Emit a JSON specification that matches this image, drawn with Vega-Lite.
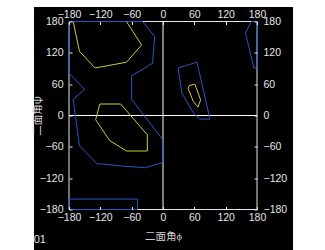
{
  "$schema": "https://vega.github.io/schema/vega-lite/v6.json",
  "width": 188,
  "height": 188,
  "autosize": {"type": "none"},
  "padding": {"left": 69, "top": 21.5, "right": 68, "bottom": 40.5},
  "background": "white",
  "config": {
    "view": {"stroke": null}
  },
  "datasets": {
    "bg": [{"x1": -247, "x2": 249, "y1": 208, "y2": -262}],
    "frame": [{"x1": -180, "x2": 180, "y1": 180, "y2": -180}],
    "v": [{"phi": 0}],
    "h": [{"psi": 0}],
    "lines": [
      {"c": "b1", "k": "blue", "o": 0, "phi": -180, "psi": 81},
      {"c": "b1", "k": "blue", "o": 1, "phi": -180, "psi": 180},
      {"c": "b1", "k": "blue", "o": 2, "phi": -39, "psi": 180},
      {"c": "b1", "k": "blue", "o": 3, "phi": -16, "psi": 151},
      {"c": "b1", "k": "blue", "o": 4, "phi": -18, "psi": 126},
      {"c": "b1", "k": "blue", "o": 5, "phi": -20, "psi": 100},
      {"c": "b1", "k": "blue", "o": 6, "phi": -60, "psi": 76},
      {"c": "b1", "k": "blue", "o": 7, "phi": -60, "psi": 31},
      {"c": "b1", "k": "blue", "o": 8, "phi": 0, "psi": -47},
      {"c": "b1", "k": "blue", "o": 9, "phi": 0, "psi": -90},
      {"c": "b1", "k": "blue", "o": 10, "phi": -34, "psi": -100},
      {"c": "b1", "k": "blue", "o": 11, "phi": -76, "psi": -97},
      {"c": "b1", "k": "blue", "o": 12, "phi": -127, "psi": -92},
      {"c": "b1", "k": "blue", "o": 13, "phi": -160, "psi": -58},
      {"c": "b1", "k": "blue", "o": 14, "phi": -172, "psi": 31},
      {"c": "b1", "k": "blue", "o": 15, "phi": -150, "psi": 50},
      {"c": "b1", "k": "blue", "o": 16, "phi": -180, "psi": 81},
      {"c": "b4", "k": "blue", "o": 0, "phi": -180, "psi": -160},
      {"c": "b4", "k": "blue", "o": 1, "phi": -49, "psi": -160},
      {"c": "b4", "k": "blue", "o": 2, "phi": -49, "psi": -180},
      {"c": "b4", "k": "blue", "o": 3, "phi": -180, "psi": -180},
      {"c": "b4", "k": "blue", "o": 4, "phi": -180, "psi": -160},
      {"c": "b2", "k": "blue", "o": 0, "phi": 29, "psi": 91},
      {"c": "b2", "k": "blue", "o": 1, "phi": 65, "psi": 102},
      {"c": "b2", "k": "blue", "o": 2, "phi": 90, "psi": -7},
      {"c": "b2", "k": "blue", "o": 3, "phi": 70, "psi": -7},
      {"c": "b2", "k": "blue", "o": 4, "phi": 58, "psi": 5},
      {"c": "b2", "k": "blue", "o": 5, "phi": 36, "psi": 43},
      {"c": "b2", "k": "blue", "o": 6, "phi": 29, "psi": 91},
      {"c": "b3", "k": "blue", "o": 0, "phi": 169, "psi": 180},
      {"c": "b3", "k": "blue", "o": 1, "phi": 158, "psi": 158},
      {"c": "b3", "k": "blue", "o": 2, "phi": 174, "psi": 91},
      {"c": "b3", "k": "blue", "o": 3, "phi": 180, "psi": 91},
      {"c": "b3", "k": "blue", "o": 4, "phi": 180, "psi": 180},
      {"c": "b3", "k": "blue", "o": 5, "phi": 169, "psi": 180},
      {"c": "y1", "k": "yellow", "o": 0, "phi": -172, "psi": 180},
      {"c": "y1", "k": "yellow", "o": 1, "phi": -160, "psi": 123},
      {"c": "y1", "k": "yellow", "o": 2, "phi": -130, "psi": 91},
      {"c": "y1", "k": "yellow", "o": 3, "phi": -70, "psi": 102},
      {"c": "y1", "k": "yellow", "o": 4, "phi": -41, "psi": 135},
      {"c": "y1", "k": "yellow", "o": 5, "phi": -70, "psi": 180},
      {"c": "y2", "k": "yellow", "o": 0, "phi": -121, "psi": 22},
      {"c": "y2", "k": "yellow", "o": 1, "phi": -81, "psi": 22},
      {"c": "y2", "k": "yellow", "o": 2, "phi": -30, "psi": -37},
      {"c": "y2", "k": "yellow", "o": 3, "phi": -30, "psi": -68},
      {"c": "y2", "k": "yellow", "o": 4, "phi": -70, "psi": -68},
      {"c": "y2", "k": "yellow", "o": 5, "phi": -102, "psi": -48},
      {"c": "y2", "k": "yellow", "o": 6, "phi": -129, "psi": -8},
      {"c": "y2", "k": "yellow", "o": 7, "phi": -121, "psi": 22},
      {"c": "y3", "k": "yellow", "o": 0, "phi": 50, "psi": 57},
      {"c": "y3", "k": "yellow", "o": 1, "phi": 61, "psi": 60},
      {"c": "y3", "k": "yellow", "o": 2, "phi": 72, "psi": 30},
      {"c": "y3", "k": "yellow", "o": 3, "phi": 67, "psi": 16},
      {"c": "y3", "k": "yellow", "o": 4, "phi": 58, "psi": 27},
      {"c": "y3", "k": "yellow", "o": 5, "phi": 48, "psi": 52},
      {"c": "y3", "k": "yellow", "o": 6, "phi": 50, "psi": 57}
    ],
    "txt": [{"t": "01", "x": -236, "y": -238}]
  },
  "layer": [
    {
      "data": {"name": "bg"},
      "mark": {"type": "rect", "fill": "black"},
      "encoding": {
        "x": {"field": "x1", "type": "quantitative", "scale": {"domain": [-180, 180], "nice": false, "zero": false},
              "axis": {"orient": "bottom", "title": "二面角ϕ", "values": [-180, -120, -60, 0, 60, 120, 180], "format": "d",
                       "domain": false, "grid": false, "tickSize": -3, "tickColor": "#e6e6e6", "labelColor": "#e6e6e6",
                       "labelFont": "Liberation Sans", "labelFontSize": 10.5, "labelFlush": false, "labelOverlap": false, "labelBound": false,
                       "labelPadding": 6, "titlePadding": 8, "titleColor": "#d0d0d0", "titleFont": "Noto Sans CJK SC", "titleFontSize": 10.5, "titleFontWeight": "normal", "zindex": 2}},
        "x2": {"field": "x2"},
        "y": {"field": "y1", "type": "quantitative", "scale": {"domain": [-180, 180], "nice": false, "zero": false},
              "axis": {"orient": "left", "title": "二面角ψ", "values": [-180, -120, -60, 0, 60, 120, 180], "format": "d",
                       "domain": false, "grid": false, "tickSize": -3, "tickColor": "#e6e6e6", "labelColor": "#e6e6e6",
                       "labelFont": "Liberation Sans", "labelFontSize": 10.5, "labelFlush": false, "labelOverlap": false, "labelBound": false,
                       "labelPadding": 9, "titlePadding": -3, "titleColor": "#d0d0d0", "titleFont": "Noto Sans CJK SC", "titleFontSize": 10.5, "titleFontWeight": "normal", "zindex": 2}},
        "y2": {"field": "y2"}
      }
    },
    {
      "data": {"name": "frame"},
      "mark": {"type": "rect", "filled": false, "stroke": "#e6e6e6", "strokeWidth": 1},
      "encoding": {
        "x": {"field": "x1", "type": "quantitative",
              "axis": {"orient": "top", "title": null, "values": [-180, -120, -60, 0, 60, 120, 180], "format": "d",
                       "domain": false, "grid": false, "tickSize": -3, "tickColor": "#e6e6e6", "labelColor": "#e6e6e6",
                       "labelFont": "Liberation Sans", "labelFontSize": 10.5, "labelFlush": false, "labelOverlap": false, "labelBound": false,
                       "labelPadding": 5, "zindex": 2}},
        "x2": {"field": "x2"},
        "y": {"field": "y1", "type": "quantitative",
              "axis": {"orient": "right", "title": null, "values": [-180, -120, -60, 0, 60, 120, 180], "format": "d",
                       "domain": false, "grid": false, "tickSize": -3, "tickColor": "#e6e6e6", "labelColor": "#e6e6e6",
                       "labelFont": "Liberation Sans", "labelFontSize": 10.5, "labelFlush": false, "labelOverlap": false, "labelBound": false,
                       "labelPadding": 9, "zindex": 2}},
        "y2": {"field": "y2"}
      }
    },
    {
      "data": {"name": "v"},
      "mark": {"type": "rule", "color": "white", "strokeWidth": 1},
      "encoding": {"x": {"field": "phi", "type": "quantitative", "axis": null}}
    },
    {
      "data": {"name": "h"},
      "mark": {"type": "rule", "color": "white", "strokeWidth": 1},
      "encoding": {"y": {"field": "psi", "type": "quantitative", "axis": null}}
    },
    {
      "data": {"name": "lines"},
      "mark": {"type": "line", "strokeWidth": 1, "interpolate": "linear"},
      "encoding": {
        "x": {"field": "phi", "type": "quantitative", "axis": null},
        "y": {"field": "psi", "type": "quantitative", "axis": null},
        "color": {"field": "k", "type": "nominal", "scale": {"domain": ["blue", "yellow"], "range": ["#2a56c6", "#cccc33"]}, "legend": null},
        "detail": {"field": "c"},
        "order": {"field": "o", "type": "quantitative"}
      }
    },
    {
      "data": {"name": "txt"},
      "mark": {"type": "text", "font": "Liberation Sans", "fontSize": 11, "fill": "#e0e0e0"},
      "encoding": {
        "x": {"field": "x", "type": "quantitative", "axis": null},
        "y": {"field": "y", "type": "quantitative", "axis": null},
        "text": {"field": "t"}
      }
    }
  ],
  "resolve": {"axis": {"x": "independent", "y": "independent"}}
}
